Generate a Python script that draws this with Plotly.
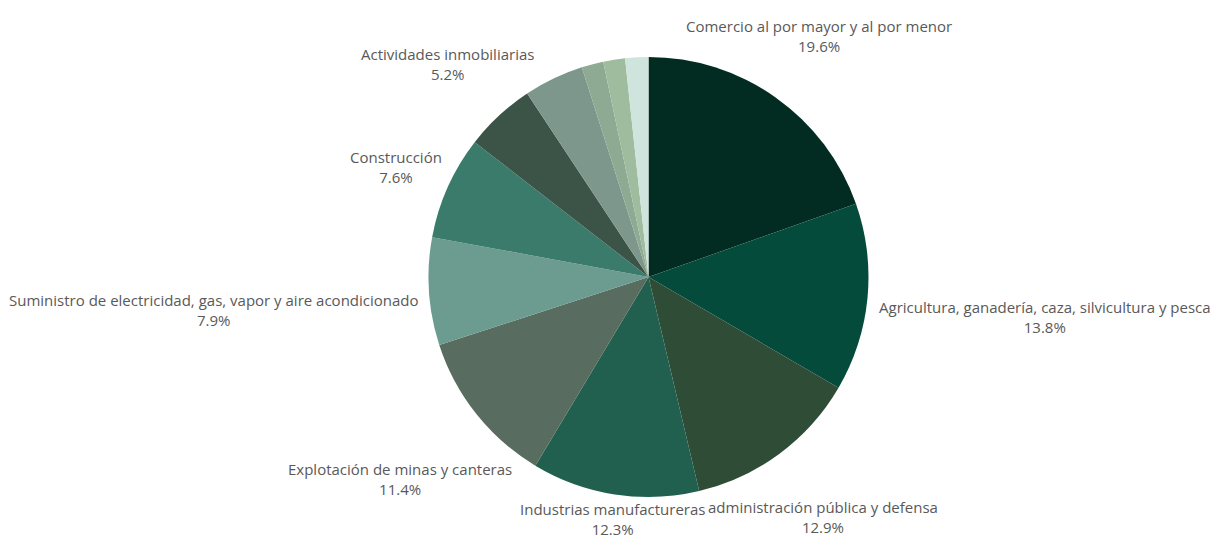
import math
import plotly.graph_objects as go

# Share of each economic sector (percent), clockwise from 12 o'clock
sectores = [
    "Comercio al por mayor y al por menor",
    "Agricultura, ganadería, caza, silvicultura y pesca",
    "administración pública y defensa",
    "Industrias manufactureras",
    "Explotación de minas y canteras",
    "Suministro de electricidad, gas, vapor y aire acondicionado",
    "Construcción",
    "Actividades inmobiliarias",
    "Otra rama 1",
    "Otra rama 2",
    "Otra rama 3",
    "Otra rama 4",
]
participacion = [19.6, 13.8, 12.9, 12.3, 11.4, 7.9, 7.6, 5.2, 4.4, 1.6, 1.6, 1.7]
con_etiqueta = [True, True, True, True, True, True, True, True, False, False, False, False]

colores = [
    "#022c21", "#044b3c", "#2f4c37", "#21604f", "#586c60", "#6c9b90",
    "#3a7b6c", "#3c5447", "#7e978c", "#8eaa93", "#9fbc9f", "#cfe4dc",
]

# Outside label placement: radial distance (multiple of the pie radius)
# and angular shift (degrees) from the slice's mid-angle
distancia_etiqueta = [1.34, 1.81, 1.349, 1.112, 1.455, 1.98, 1.25, 1.33, 0, 0, 0, 0]
desvio_angular = [0.0, 0.4, 0.55, -0.24, -0.6, -0.6, -0.6, -0.5, 0, 0, 0, 0]

ANCHO, ALTO = 1217, 537
MARGEN = dict(l=80, r=0, t=57, b=40)
area_w = ANCHO - MARGEN["l"] - MARGEN["r"]
area_h = ALTO - MARGEN["t"] - MARGEN["b"]
radio_px = min(area_w, area_h) / 2

fig = go.Figure(
    go.Pie(
        labels=sectores,
        values=participacion,
        sort=False,
        direction="clockwise",
        rotation=0,
        marker=dict(colors=colores, line=dict(width=0)),
        textinfo="none",
        hovertemplate="%{label}<br>%{value:.1f}%<extra></extra>",
        showlegend=False,
    )
)

# Outside labels around each slice's mid-angle
total = sum(participacion)
acumulado = 0.0
anotaciones = []
for nombre, valor, mostrar, k, desvio in zip(
    sectores, participacion, con_etiqueta, distancia_etiqueta, desvio_angular
):
    medio = (acumulado + valor / 2) / total * 2 * math.pi
    acumulado += valor
    if not mostrar:
        continue
    angulo = medio + math.radians(desvio)
    dx_px = k * radio_px * math.sin(angulo)
    dy_px = k * radio_px * math.cos(angulo)
    anotaciones.append(
        dict(
            x=0.5 + dx_px / area_w,
            y=0.5 + dy_px / area_h,
            xref="paper",
            yref="paper",
            text=f"{nombre}<br>{valor:.1f}%",
            showarrow=False,
            xanchor="center",
            yanchor="middle",
            align="center",
            font=dict(family="Open Sans", size=15, color="#595959"),
        )
    )

fig.update_layout(
    width=ANCHO,
    height=ALTO,
    margin=MARGEN,
    paper_bgcolor="white",
    plot_bgcolor="white",
    annotations=anotaciones,
)

fig.write_html("out.html")
